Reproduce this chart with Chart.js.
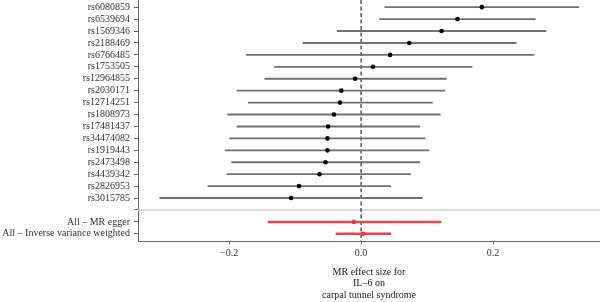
<!DOCTYPE html>
<html>
<head>
<meta charset="utf-8">
<script src="https://cdn.jsdelivr.net/npm/chart.js@4/dist/chart.umd.min.js"></script>
<style>
html,body{margin:0;padding:0;background:#fff;}
#wrap{width:600px;height:302px;}
</style>
</head>
<body>
<div id="wrap"><canvas id="c" width="600" height="302"></canvas></div>
<script>
// SNP rows (top to bottom)
const snps = ['rs6080859','rs6539694','rs1569346','rs2188469','rs6766485','rs1753505','rs12964855','rs2030171','rs12714251','rs1808973','rs17481437','rs34474082','rs1919443','rs2473498','rs4439342','rs2826953','rs3015785'];
const snpEst = [0.183,0.146,0.122,0.073,0.044,0.018,-0.009,-0.030,-0.032,-0.041,-0.050,-0.051,-0.051,-0.054,-0.063,-0.094,-0.106];
const snpLo  = [0.036,0.028,-0.036,-0.088,-0.174,-0.131,-0.146,-0.188,-0.171,-0.202,-0.188,-0.199,-0.206,-0.196,-0.203,-0.232,-0.305];
const snpHi  = [0.330,0.264,0.280,0.235,0.262,0.168,0.129,0.127,0.108,0.120,0.089,0.097,0.103,0.089,0.075,0.045,0.093];
// Combined methods
const methods = ['All – MR egger','All – Inverse variance weighted'];
const mrEst = [-0.011, 0.003];
const mrLo  = [-0.141, -0.038];
const mrHi  = [0.121, 0.045];
// Axis
const xTicks = [-0.2, 0.0, 0.2];
const xMin = -0.338, xMax = 0.362;
const rowLabels = [...snps, '', ...methods];
const sepIndex = snps.length;
const methodStart = snps.length + 1;

const snpBars = snps.map((s,i)=>({y:i, x:[snpLo[i], snpHi[i]]}));
const snpPts = snps.map((s,i)=>({y:i, x:snpEst[i]}));
const mrBars = methods.map((m,i)=>({y:methodStart+i, x:[mrLo[i], mrHi[i]]}));
const mrPts = methods.map((m,i)=>({y:methodStart+i, x:mrEst[i]}));

const FONT = "'Liberation Serif', 'DejaVu Serif', serif";

new Chart(document.getElementById('c'), {
  type: 'bar',
  data: {
    datasets: [
      {type:'line', data:[{x:xMin,y:sepIndex},{x:xMax,y:sepIndex}], borderColor:'#cfcfcf', borderWidth:1.5, pointRadius:0, pointHoverRadius:0, order:5},
      {type:'line', data:[{x:0,y:-0.6},{x:0,y:rowLabels.length-0.4}], borderColor:'#000', borderWidth:1, borderDash:[4,2.5], pointRadius:0, pointHoverRadius:0, order:4},
      {type:'bar', data:snpBars, backgroundColor:'#707070', barThickness:1.2, grouped:false, borderWidth:0, order:3},
      {type:'bar', data:mrBars, backgroundColor:'#f04448', barThickness:1.8, grouped:false, borderWidth:0, order:3},
      {type:'scatter', data:snpPts, backgroundColor:'#000', borderColor:'#000', pointRadius:2.3, pointHoverRadius:2.3, borderWidth:0, order:1},
      {type:'scatter', data:mrPts, backgroundColor:'#f03a3f', borderColor:'#f03a3f', pointRadius:2.3, pointHoverRadius:2.3, borderWidth:0, order:1}
    ]
  },
  options: {
    indexAxis: 'y',
    responsive: false,
    animation: false,
    devicePixelRatio: 1,
    layout: {autoPadding:false, padding: {left:0, right:0, top:0, bottom:0}},
    plugins: {legend:{display:false}, tooltip:{enabled:false}, title:{display:false}},
    scales: {
      x: {
        type: 'linear',
        offset: false,
        min: xMin, max: xMax,
        afterBuildTicks: s => { s.ticks = xTicks.map(v=>({value:v})); },
        afterFit: s => { s.height = 61; s.paddingLeft = 0; s.paddingRight = 0; },
        ticks: {
          font:{family:FONT, size:10}, color:'#333', padding:3,
          callback: v => (v<0?'\u2212':'') + Math.abs(v).toFixed(1)
        },
        grid: {drawOnChartArea:false, drawTicks:true, tickLength:3, color:'#666'},
        border: {display:true, color:'#666', width:1},
        title: {
          display:true,
          text:['MR effect size for','IL\u20136 on','carpal tunnel syndrome'],
          font:{family:FONT, size:10, lineHeight:1.15}, color:'#222',
          padding:{top:0, bottom:1}
        }
      },
      y: {
        type: 'linear',
        offset: false,
        reverse: true,
        min: -0.6, max: rowLabels.length - 0.4,
        afterBuildTicks: s => { s.ticks = rowLabels.map((l,i)=>({value:i})); },
        afterFit: s => { s.width = 138; s.paddingTop = 0; s.paddingBottom = 0; },
        ticks: {
          font:{family:FONT, size:10}, color:'#333', padding:4, autoSkip:false,
          callback: v => rowLabels[v]
        },
        grid: {offset:false, drawOnChartArea:false, drawTicks:true, tickLength:4, color:'#666'},
        border: {display:true, color:'#666', width:1}
      }
    }
  }
});
</script>
</body>
</html>
